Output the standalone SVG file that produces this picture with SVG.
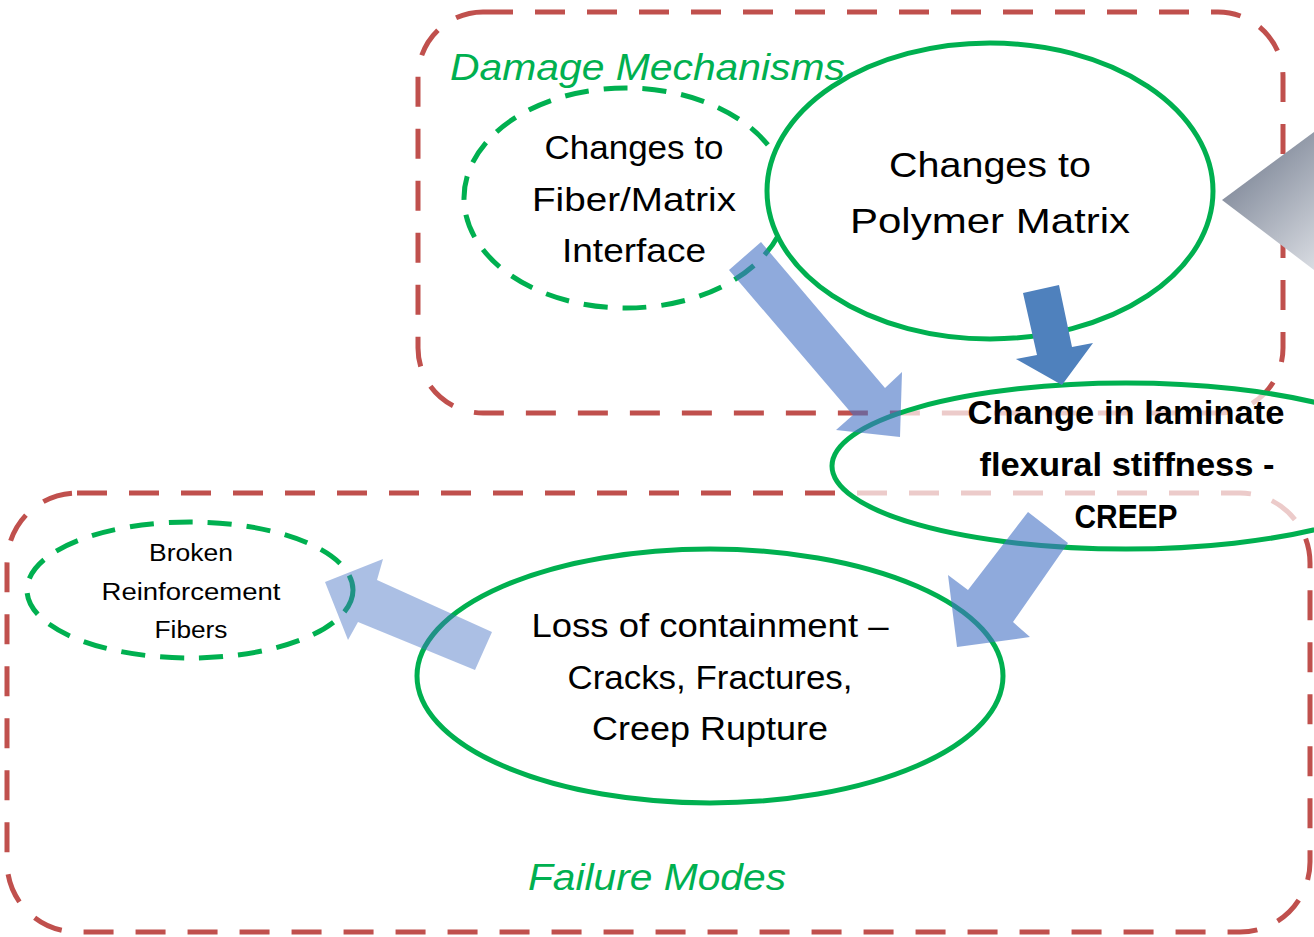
<svg xmlns="http://www.w3.org/2000/svg" width="1314" height="937" viewBox="0 0 1314 937">
<style>
.box{fill:none;stroke:#C0504D;stroke-width:5;stroke-dasharray:30 22}
.gdash{fill:none;stroke:#00B050;stroke-width:5;stroke-dasharray:24 15}
.gsolid{stroke:#00B050;stroke-width:5}
.t{font-family:"Liberation Sans",Arial,sans-serif;fill:#000;text-anchor:middle}
.title{font-family:"Liberation Sans",Arial,sans-serif;font-style:italic;fill:#00B050}
.arr{fill:#4472C4}
</style>
<defs>
<linearGradient id="tri" gradientUnits="userSpaceOnUse" x1="1222" y1="170" x2="1314" y2="270">
<stop offset="0" stop-color="#7C8596"/>
<stop offset="1" stop-color="#D9DCE2"/>
</linearGradient>
</defs>
<rect width="1314" height="937" fill="#fff"/>
<g id="damage-mechanisms-box">
<rect class="box" x="418" y="12" width="865" height="401" rx="65" ry="65"/>
</g>
<g id="failure-modes-box">
<rect class="box" x="7" y="493" width="1303" height="439" rx="70" ry="70"/>
<text class="title" x="528" y="890" font-size="36" textLength="258" lengthAdjust="spacingAndGlyphs">Failure Modes</text>
</g>
<g id="pointer-triangle">
<polygon points="1222,200 1314,132 1314,270" fill="url(#tri)"/>
</g>
<g id="fiber-matrix-interface">
<ellipse class="gdash" cx="626" cy="198" rx="162" ry="110"/>
<text class="t" font-size="33" x="634" y="159" textLength="179" lengthAdjust="spacingAndGlyphs">Changes to</text>
<text class="t" font-size="33" x="634" y="211" textLength="204" lengthAdjust="spacingAndGlyphs">Fiber/Matrix</text>
<text class="t" font-size="33" x="634" y="262" textLength="144" lengthAdjust="spacingAndGlyphs">Interface</text>
</g>
<g id="polymer-matrix">
<ellipse class="gsolid" fill="#fff" cx="990" cy="191" rx="223" ry="148"/>
<text class="t" font-size="35" x="990" y="177" textLength="202" lengthAdjust="spacingAndGlyphs">Changes to</text>
<text class="t" font-size="35" x="990" y="233" textLength="280" lengthAdjust="spacingAndGlyphs">Polymer Matrix</text>
</g>
<g id="damage-title">
<text class="title" x="450" y="80" font-size="36" textLength="395" lengthAdjust="spacingAndGlyphs">Damage Mechanisms</text>
</g>
<g id="broken-fibers">
<ellipse class="gdash" cx="190" cy="590" rx="163" ry="68"/>
<text class="t" font-size="23" x="191" y="561" textLength="84" lengthAdjust="spacingAndGlyphs">Broken</text>
<text class="t" font-size="23" x="191" y="600" textLength="179" lengthAdjust="spacingAndGlyphs">Reinforcement</text>
<text class="t" font-size="23" x="191" y="638" textLength="73" lengthAdjust="spacingAndGlyphs">Fibers</text>
</g>
<g id="loss-of-containment">
<ellipse class="gsolid" fill="none" cx="710" cy="676" rx="293" ry="127"/>
<text class="t" font-size="33" x="710" y="637" textLength="357" lengthAdjust="spacingAndGlyphs">Loss of containment –</text>
<text class="t" font-size="33" x="710" y="689" textLength="285" lengthAdjust="spacingAndGlyphs">Cracks, Fractures,</text>
<text class="t" font-size="33" x="710" y="740" textLength="236" lengthAdjust="spacingAndGlyphs">Creep Rupture</text>
</g>
<g id="laminate-stiffness">
<ellipse class="gsolid" fill="#fff" fill-opacity="0.7" cx="1126" cy="466" rx="294" ry="83"/>
<text class="t" font-size="33" font-weight="bold" x="1126" y="424" textLength="317" lengthAdjust="spacingAndGlyphs">Change in laminate</text>
<text class="t" font-size="33" font-weight="bold" x="1127" y="476" textLength="295" lengthAdjust="spacingAndGlyphs">flexural stiffness -</text>
<text class="t" font-size="33" font-weight="bold" x="1126" y="528" textLength="103" lengthAdjust="spacingAndGlyphs">CREEP</text>
</g>
<g id="connectors">
<polygon class="arr" fill-opacity="0.6" points="761,242 885,388 902,372 900,437 836,430 853,415 729,270"/>
<polygon fill="#4F81BD" points="1059,285 1072,347 1093,343 1062,385 1016,359 1037,355 1023,293"/>
<polygon class="arr" fill-opacity="0.6" points="1028,512 1068,543 1013,622 1030,637 957,647 948,575 968,590"/>
<polygon class="arr" fill-opacity="0.45" points="492,632 475,670 358,622 348,640 325,582 383,559 377,580"/>
</g>
</svg>
